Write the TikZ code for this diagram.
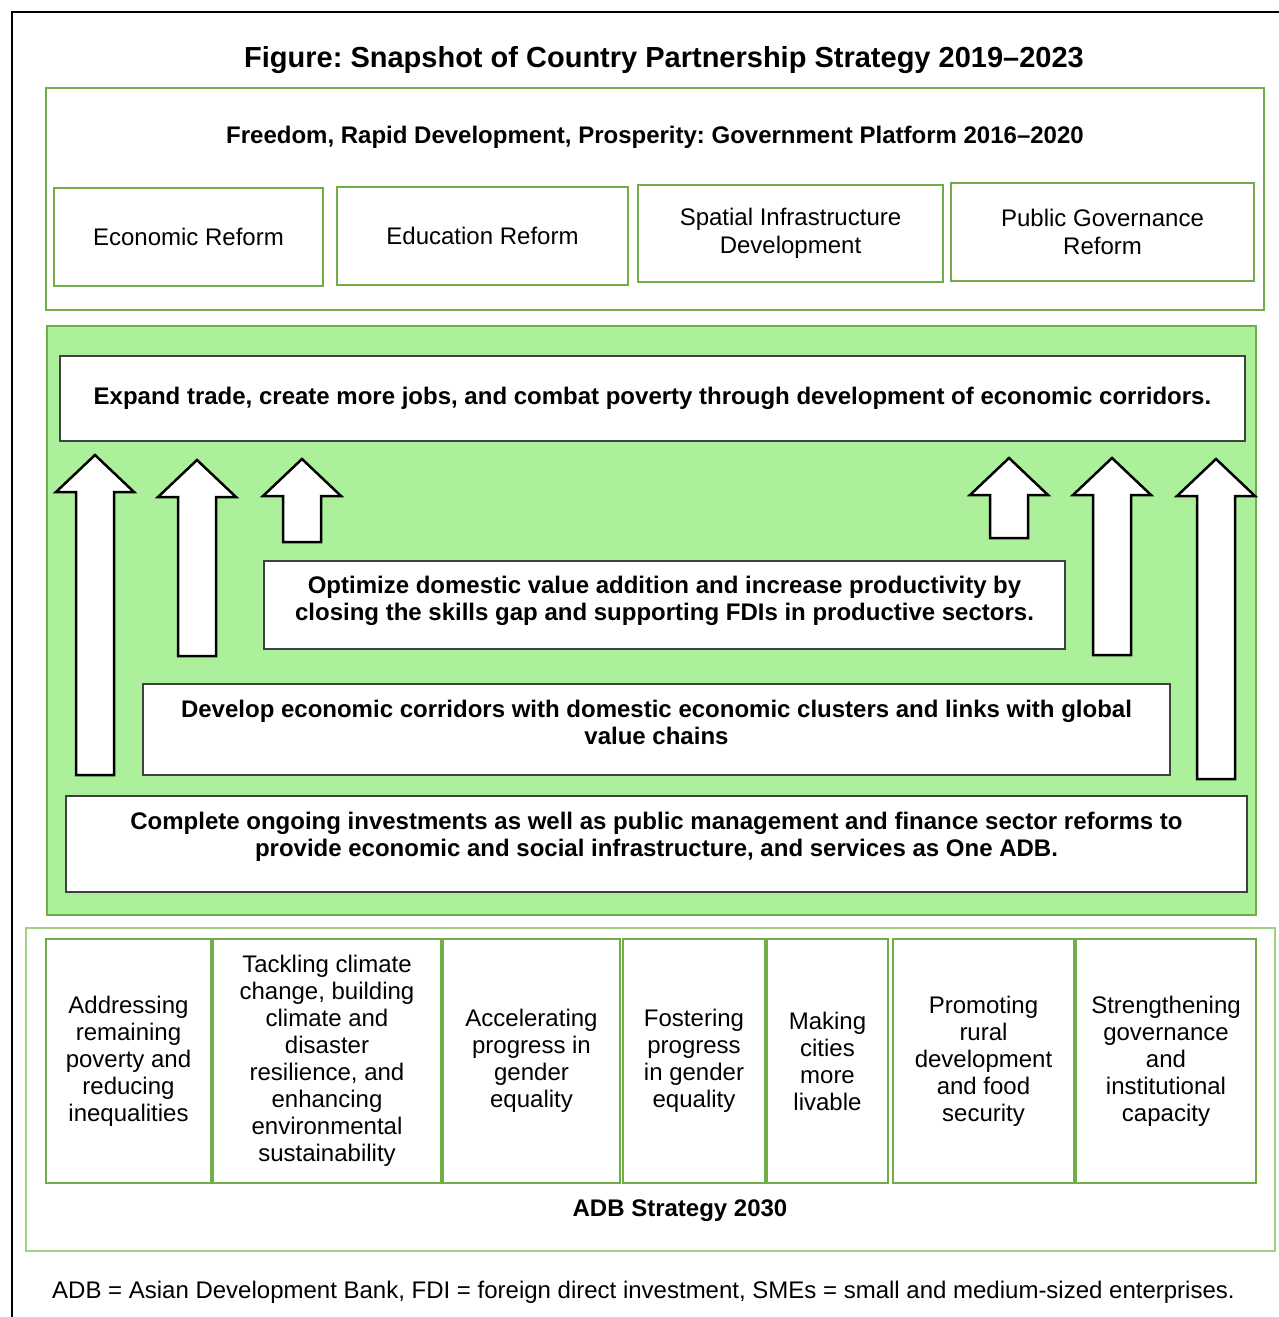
\documentclass[tikz,border=0pt]{standalone}
\usepackage{fontspec}
\setmainfont{Liberation Sans}
\usepackage{xcolor}
\frenchspacing

\definecolor{frameGreen}{RGB}{112,173,71}
\definecolor{paleGreen}{RGB}{173,240,156}
\definecolor{thinGreen}{RGB}{160,208,130}
\definecolor{boxGray}{RGB}{64,64,64}

\begin{document}
\begin{tikzpicture}[x=1pt, y=-1pt,
  plat/.style={draw=frameGreen, line width=2.5pt, fill=white, align=center,
    inner sep=0pt, font=\fontsize{24}{28}\selectfont},
  goal/.style={draw=boxGray, line width=1.5pt, fill=white, inner sep=0pt},
  goaltext/.style={align=center, inner sep=0pt, font=\bfseries\fontsize{24}{27.5}\selectfont},
  pillar/.style={draw=frameGreen, line width=2.5pt, fill=white, align=center,
    inner sep=0pt, font=\fontsize{24}{27}\selectfont},
  uparrow/.style={draw=black, line width=2.5pt, fill=white, line join=miter}]
\useasboundingbox (0,0) rectangle (1279,1317);

% outer frame, only top and left are shown
\draw[line width=2.5pt] (1279,12) -- (12,12) -- (12,1317);

\node[font=\bfseries\fontsize{29}{33}\selectfont] (title) at (664,60)
  {Figure: Snapshot of Country Partnership Strategy 2019--2023};

% government platform
\node[draw=frameGreen, line width=2.5pt, minimum width=1218pt, minimum height=222pt] (gov) at (655,199) {};
\node[font=\bfseries\fontsize{24}{28}\selectfont] (govtitle) at (655,137)
  {Freedom, Rapid Development, Prosperity: Government Platform 2016--2020};
\node[plat, minimum width=269pt, minimum height=98pt] (econ) at (188.5,237) {Economic Reform};
\node[plat, minimum width=291pt, minimum height=98pt] (edu) at (482.5,236) {Education Reform};
\node[plat, minimum width=305pt, minimum height=97pt] (spatial) at (790.5,233.5) {Spatial Infrastructure\\Development};
\node[plat, minimum width=303pt, minimum height=98pt] (pubgov) at (1102.5,232) {Public Governance\\Reform};

% country partnership strategy
\node[draw=frameGreen, fill=paleGreen, line width=2.5pt, minimum width=1209pt, minimum height=589pt] (cps) at (651.5,620.5) {};
\node[goal, minimum width=1185pt, minimum height=85pt] (expand) at (652.5,398.5) {};
\node[goaltext] at (expand.center)
  {Expand trade, create more jobs, and combat poverty through development of economic corridors.};
\node[goal, minimum width=801pt, minimum height=88pt] (optimize) at (664.5,605) {};
\node[goaltext, yshift=4pt] at (optimize.center)
  {Optimize domestic value addition and increase productivity by\\closing the skills gap and supporting FDIs in productive sectors.};
\node[goal, minimum width=1027pt, minimum height=91pt] (develop) at (656.5,729.5) {};
\node[goaltext, yshift=7pt] at (develop.center)
  {Develop economic corridors with domestic economic clusters and links with global\\value chains};
\node[goal, minimum width=1181pt, minimum height=96pt] (complete) at (656.5,844) {};
\node[goaltext, yshift=7pt] at (complete.center)
  {Complete ongoing investments as well as public management and finance sector reforms to\\provide economic and social infrastructure, and services as One ADB.};

% block arrows: centre / tip / foot
\foreach \cx/\tip/\foot in {95/455/775, 197/460/656, 302/459/542,
                            1009/458/538, 1112/458/655, 1216/459/779}
  \draw[uparrow] (\cx,\tip) -- (\cx+39,\tip+37) -- (\cx+19,\tip+37) -- (\cx+19,\foot)
    -- (\cx-19,\foot) -- (\cx-19,\tip+37) -- (\cx-39,\tip+37) -- cycle;

% ADB strategy 2030
\node[draw=thinGreen, line width=1.5pt, minimum width=1249pt, minimum height=323pt] (adb) at (650.5,1089.5) {};
\node[pillar, minimum width=165pt, minimum height=244pt] (p1) at (128.5,1061)
  {Addressing\\remaining\\poverty and\\reducing\\inequalities};
\node[pillar, minimum width=228pt, minimum height=244pt] (p2) at (327,1061)
  {Tackling climate\\change, building\\climate and\\disaster\\resilience, and\\enhancing\\environmental\\sustainability};
\node[pillar, minimum width=177pt, minimum height=244pt] (p3) at (531.5,1061)
  {Accelerating\\progress in\\gender\\equality};
\node[pillar, minimum width=142pt, minimum height=244pt] (p4) at (694,1061)
  {Fostering\\progress\\in gender\\equality};
\node[pillar, minimum width=121pt, minimum height=244pt] (p5) at (827.5,1061)
  {Making\\cities\\more\\livable};
\node[pillar, minimum width=181pt, minimum height=244pt] (p6) at (983.5,1061)
  {Promoting\\rural\\development\\and food\\security};
\node[pillar, minimum width=180pt, minimum height=244pt] (p7) at (1166,1061)
  {Strengthening\\governance\\and\\institutional\\capacity};
\node[font=\bfseries\fontsize{24}{28}\selectfont] (adbtitle) at (680,1211) {ADB Strategy 2030};

\node[anchor=west, inner sep=0pt, font=\fontsize{24}{28}\selectfont] (note) at (52,1292)
  {ADB = Asian Development Bank, FDI = foreign direct investment, SMEs = small and medium-sized enterprises.};
\end{tikzpicture}
\end{document}
